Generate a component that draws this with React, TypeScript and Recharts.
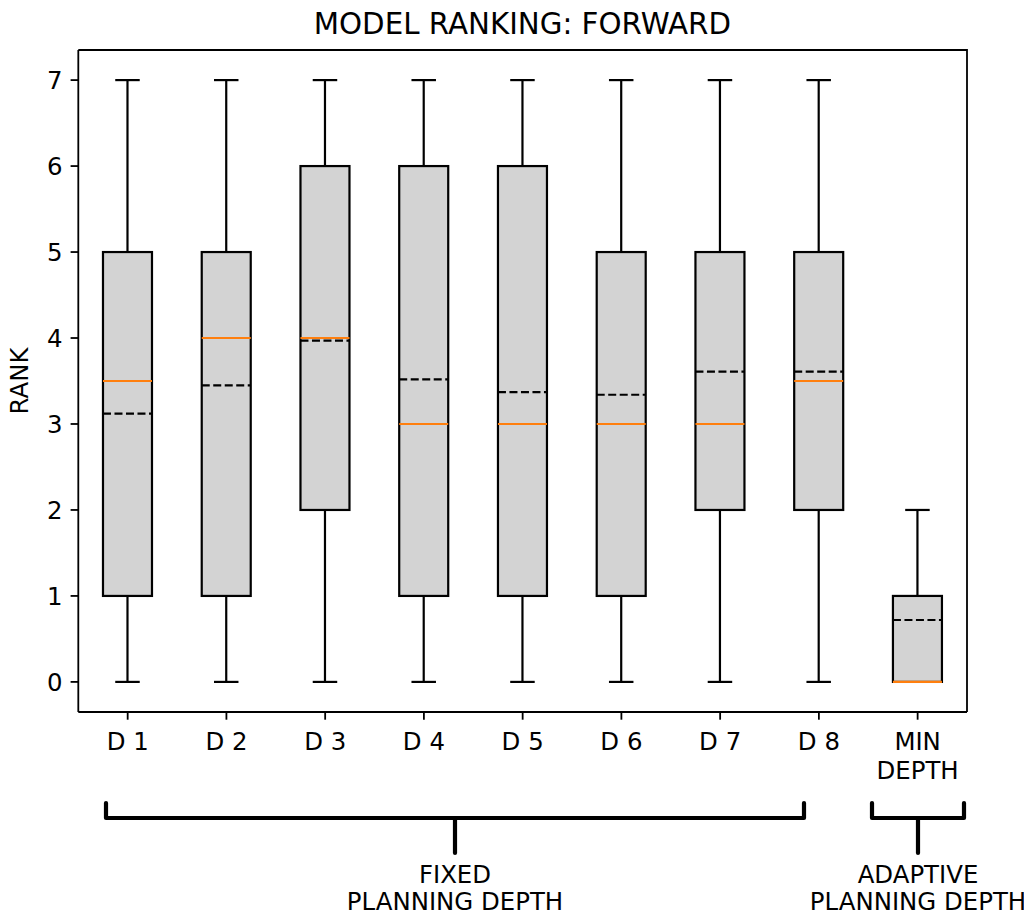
import { Bar, ComposedChart, XAxis, YAxis } from "recharts";

// one entry per box, left to right
const categories = ["D 1", "D 2", "D 3", "D 4", "D 5", "D 6", "D 7", "D 8", "MIN\nDEPTH"];
const whiskerLow = [0, 0, 0, 0, 0, 0, 0, 0, 0];
const q1 = [1, 1, 2, 1, 1, 1, 2, 2, 0];
const medians = [3.5, 4, 4, 3, 3, 3, 3, 3.5, 0];
const means = [3.12, 3.45, 3.97, 3.52, 3.37, 3.34, 3.61, 3.61, 0.72];
const q3 = [5, 5, 6, 6, 6, 5, 5, 5, 1];
const whiskerHigh = [7, 7, 7, 7, 7, 7, 7, 7, 2];
const yTicks = [0, 1, 2, 3, 4, 5, 6, 7];

const data = categories.map((name, i) => ({
  name,
  lo: whiskerLow[i],
  q1: q1[i],
  median: medians[i],
  mean: means[i],
  q3: q3[i],
  hi: whiskerHigh[i],
}));

const FONT = "DejaVu Sans, sans-serif";
const LW = 2.2;
const TICK_FS = 24.4;

function BoxShape(props: any) {
  const { x, y, width, height, payload } = props;
  const top = Math.min(y, y + height);
  const bottom = Math.max(y, y + height);
  const span = payload.hi - payload.lo;
  const py = (v: number) => bottom - ((v - payload.lo) / span) * (bottom - top);
  const cx = x + width / 2;
  const cap = width / 4;
  return (
    <g>
      <line x1={cx} x2={cx} y1={py(payload.lo)} y2={py(payload.q1)} stroke="#000" strokeWidth={LW} />
      <line x1={cx} x2={cx} y1={py(payload.q3)} y2={py(payload.hi)} stroke="#000" strokeWidth={LW} />
      <line x1={cx - cap} x2={cx + cap} y1={py(payload.lo)} y2={py(payload.lo)} stroke="#000" strokeWidth={LW} />
      <line x1={cx - cap} x2={cx + cap} y1={py(payload.hi)} y2={py(payload.hi)} stroke="#000" strokeWidth={LW} />
      <rect
        x={x}
        y={py(payload.q3)}
        width={width}
        height={py(payload.q1) - py(payload.q3)}
        fill="#d3d3d3"
        stroke="#000"
        strokeWidth={LW}
      />
      <line x1={x} x2={x + width} y1={py(payload.median)} y2={py(payload.median)} stroke="#ff7f0e" strokeWidth={LW} />
      <line
        x1={x}
        x2={x + width}
        y1={py(payload.mean)}
        y2={py(payload.mean)}
        stroke="#000"
        strokeWidth={LW}
        strokeDasharray="8 3.5"
      />
    </g>
  );
}

function XTick(props: any) {
  const { x, y, payload } = props;
  const lines = String(payload.value).split("\n");
  return (
    <text x={x} y={y} textAnchor="middle" fontFamily={FONT} fontSize={TICK_FS} fill="#000">
      {lines.map((l, i) => (
        <tspan key={i} x={x} dy={i === 0 ? 26.3 : 29}>
          {l}
        </tspan>
      ))}
    </text>
  );
}

export default function App() {
  return (
    <div style={{ position: "relative", width: 1024, height: 907 }}>
      <ComposedChart
        width={1024}
        height={900}
        data={data}
        margin={{ top: 42, right: 65, bottom: 136, left: 20.3 }}
        barCategoryGap="25%"
      >
        <XAxis
          dataKey="name"
          height={60}
          interval={0}
          tick={<XTick />}
          tickSize={7.7}
          tickMargin={4}
          axisLine={{ stroke: "#000", strokeWidth: 1.8 }}
          tickLine={{ stroke: "#000", strokeWidth: 1.8 }}
        />
        <YAxis
          type="number"
          domain={[-0.35, 7.35]}
          ticks={yTicks}
          allowDataOverflow
          width={50}
          tickSize={7.7}
          tickMargin={8}
          axisLine={{ stroke: "#000", strokeWidth: 1.8 }}
          tickLine={{ stroke: "#000", strokeWidth: 1.8 }}
          tick={{ fill: "#000", fontSize: TICK_FS, fontFamily: FONT }}
        />
        <Bar dataKey={(d: any) => [d.lo, d.hi]} shape={<BoxShape />} isAnimationActive={false} />
      </ComposedChart>
      <svg
        width={1024}
        height={907}
        style={{ position: "absolute", left: 0, top: 0, pointerEvents: "none", overflow: "visible" }}
        fontFamily={FONT}
      >
        {/* top and right spines */}
        <path d="M 70.3 42 H 959 V 704" stroke="#000" strokeWidth={1.8} fill="none" />
        <text x={514.4} y={26.3} textAnchor="middle" fontSize={29.3} fill="#000">
          MODEL RANKING: FORWARD
        </text>
        <text
          x={11}
          y={373}
          textAnchor="middle"
          dominantBaseline="central"
          fontSize={TICK_FS}
          fill="#000"
          transform="rotate(-90 11 373)"
        >
          RANK
        </text>
        <g stroke="#000" strokeWidth={4.2} fill="none" strokeLinecap="round" strokeLinejoin="round">
          <path d="M 98 795 V 810 H 796 V 795" />
          <path d="M 447 810 V 845" />
          <path d="M 864 795 V 810 H 956 V 795" />
          <path d="M 910 810 V 845" />
        </g>
        <g fontSize={TICK_FS} fill="#000" textAnchor="middle">
          <text x={447} y={875}>FIXED</text>
          <text x={447} y={902}>PLANNING DEPTH</text>
          <text x={910} y={875}>ADAPTIVE</text>
          <text x={910} y={902}>PLANNING DEPTH</text>
        </g>
      </svg>
    </div>
  );
}
